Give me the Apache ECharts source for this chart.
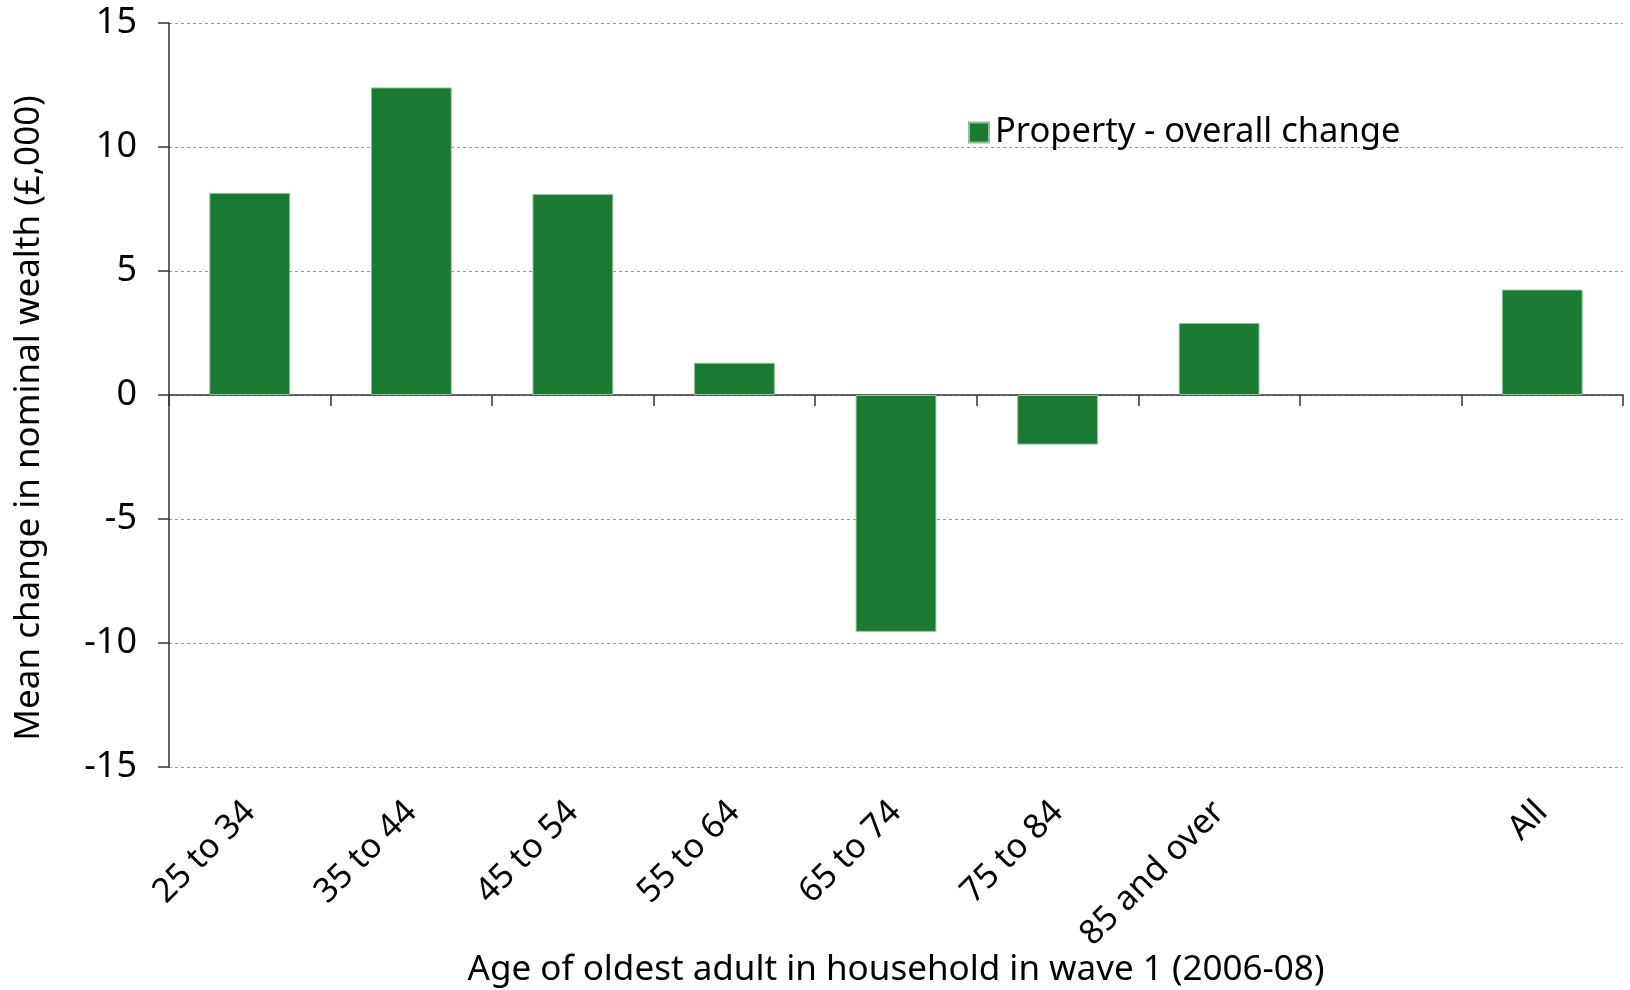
<!DOCTYPE html>
<html>
<head>
<meta charset="utf-8">
<script src="https://cdn.jsdelivr.net/npm/echarts@6/dist/echarts.min.js"></script>
<style>
  html, body { margin: 0; padding: 0; background: #fff; }
  #chart { width: 1630px; height: 990px; }
</style>
</head>
<body>
<div id="chart"></div>
<script>
// Age bands of the oldest adult (the blank slot separates "All" from the bands)
const categories = ['25 to 34', '35 to 44', '45 to 54', '55 to 64', '65 to 74', '75 to 84', '85 and over', '', 'All'];
// Mean change in nominal property wealth, £,000
const propertyChange = [8.15, 12.4, 8.1, 1.3, -9.55, -2.0, 2.9, null, 4.25];
const yTicks = { min: -15, max: 15, interval: 5 };

const FONT = 'Noto Sans';
const chart = echarts.init(document.getElementById('chart'), null, { renderer: 'canvas' });

chart.setOption({
  animation: false,
  backgroundColor: '#ffffff',
  textStyle: { fontFamily: FONT, color: '#000' },
  grid: { left: 169, right: 7, top: 23, bottom: 223, containLabel: false, outerBoundsMode: 'none' },
  legend: {
    show: true,
    left: 963,
    top: 110,
    itemWidth: 20,
    itemHeight: 20,
    itemGap: 8,
    icon: 'rect',
    textStyle: { fontFamily: FONT, fontSize: 34.5, color: '#000', padding: [0, 0, 0, 1] },
    data: ['Property - overall change']
  },
  xAxis: [
    {
      // zero line with boundary ticks
      type: 'category',
      data: categories,
      position: 'bottom',
      axisLine: { show: true, onZero: true, lineStyle: { color: '#333', width: 1.5 } },
      axisTick: { show: true, length: 11, inside: false, lineStyle: { color: '#333', width: 1.5 } },
      axisLabel: { show: false },
      splitLine: { show: false }
    },
    {
      // category labels and title along the bottom of the plot
      type: 'category',
      data: categories,
      position: 'bottom',
      axisLine: { show: false, onZero: false },
      axisTick: { show: false },
      axisLabel: {
        show: true,
        interval: 0,
        rotate: 45,
        margin: 40,
        fontFamily: FONT,
        fontSize: 34,
        color: '#000'
      },
      name: 'Age of oldest adult in household in wave 1 (2006-08)',
      nameLocation: 'middle',
      nameGap: 186,
      nameMoveOverlap: false,
      nameTextStyle: { fontFamily: FONT, fontSize: 35, color: '#000' },
      splitLine: { show: false }
    }
  ],
  yAxis: {
    type: 'value',
    min: yTicks.min,
    max: yTicks.max,
    interval: yTicks.interval,
    axisLine: { show: true, lineStyle: { color: '#333', width: 1.5 } },
    axisTick: { show: true, length: 11, lineStyle: { color: '#333', width: 1.5 } },
    axisLabel: { margin: 32, fontFamily: FONT, fontSize: 36, color: '#000' },
    splitLine: { show: true, lineStyle: { color: '#999', type: [3, 3], width: 1 } },
    name: 'Mean change in nominal wealth (£,000)',
    nameLocation: 'middle',
    nameRotate: 90,
    nameGap: 122,
    nameTextStyle: { fontFamily: FONT, fontSize: 35, color: '#000', padding: [0, 46, 0, 0] }
  },
  series: [
    {
      name: 'Property - overall change',
      type: 'bar',
      xAxisIndex: 0,
      data: propertyChange,
      barWidth: '50%',
      itemStyle: { color: '#1b7a32', borderColor: '#8cc296', borderWidth: 1 }
    }
  ]
});
</script>
</body>
</html>
